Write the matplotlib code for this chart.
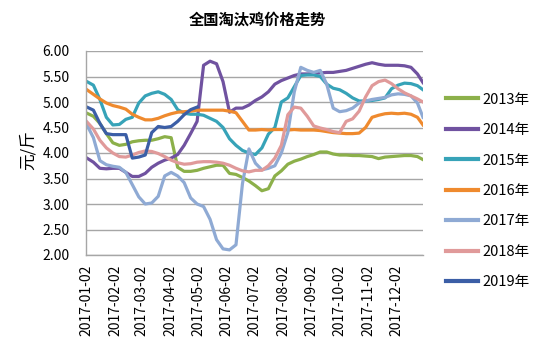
import matplotlib
matplotlib.use("Agg")
import matplotlib.pyplot as plt
import matplotlib.dates as mdates
import pandas as pd
import numpy as np

plt.rcParams['font.family'] = ['Noto Sans CJK SC', 'DejaVu Sans']

title = "全国淘汰鸡价格走势"
ylabel = "元/斤"

# weekly sample dates (2017-01-02 ... 2017-12-25) plus year end
dates = list(pd.date_range("2017-01-02", periods=52, freq="7D")) + [pd.Timestamp("2017-12-31")]

s2013 = [4.78, 4.72, 4.58, 4.38, 4.20, 4.15, 4.17, 4.22, 4.24, 4.25, 4.25, 4.28, 4.32, 4.30,
         3.72, 3.64, 3.64, 3.66, 3.70, 3.73, 3.76, 3.76, 3.60, 3.58, 3.52, 3.45, 3.36, 3.26,
         3.30, 3.55, 3.65, 3.78, 3.84, 3.88, 3.93, 3.97, 4.02, 4.02, 3.98, 3.96, 3.96, 3.95,
         3.95, 3.94, 3.93, 3.89, 3.92, 3.93, 3.94, 3.95, 3.95, 3.93, 3.87]
s2014 = [3.90, 3.82, 3.70, 3.69, 3.70, 3.70, 3.62, 3.54, 3.54, 3.60, 3.72, 3.80, 3.86, 3.90,
         3.97, 4.15, 4.38, 4.62, 5.72, 5.80, 5.75, 5.40, 4.80, 4.88, 4.88, 4.94, 5.03, 5.10,
         5.20, 5.35, 5.42, 5.47, 5.52, 5.55, 5.55, 5.56, 5.57, 5.58, 5.58, 5.60, 5.62, 5.66,
         5.70, 5.74, 5.77, 5.74, 5.72, 5.72, 5.72, 5.71, 5.68, 5.55, 5.38]
s2015 = [5.40, 5.33, 5.05, 4.70, 4.55, 4.56, 4.66, 4.70, 4.98, 5.12, 5.17, 5.20, 5.15, 5.05,
         4.85, 4.78, 4.76, 4.76, 4.74, 4.68, 4.62, 4.50, 4.28, 4.15, 4.05, 4.00, 3.97, 4.10,
         4.37, 4.50, 5.00, 5.08, 5.30, 5.52, 5.53, 5.53, 5.50, 5.35, 5.27, 5.24, 5.17, 5.08,
         5.02, 5.02, 5.03, 5.05, 5.08, 5.26, 5.33, 5.37, 5.36, 5.32, 5.24]
s2016 = [5.24, 5.15, 5.06, 4.98, 4.93, 4.90, 4.86, 4.76, 4.70, 4.65, 4.65, 4.68, 4.73, 4.77,
         4.80, 4.81, 4.82, 4.84, 4.84, 4.84, 4.84, 4.84, 4.82, 4.79, 4.62, 4.45, 4.45, 4.46,
         4.45, 4.46, 4.46, 4.45, 4.46, 4.45, 4.45, 4.45, 4.44, 4.42, 4.40, 4.39, 4.38, 4.38,
         4.39, 4.50, 4.70, 4.74, 4.77, 4.78, 4.77, 4.78, 4.76, 4.70, 4.55]
s2017 = [4.55, 4.30, 3.85, 3.77, 3.74, 3.72, 3.62, 3.38, 3.14, 3.00, 3.02, 3.15, 3.55, 3.62,
         3.55, 3.42, 3.12, 3.00, 2.95, 2.70, 2.30, 2.12, 2.10, 2.20, 3.40, 4.08, 3.80, 3.67,
         3.70, 3.75, 4.00, 4.40, 5.20, 5.68, 5.62, 5.58, 5.62, 5.35, 4.88, 4.81, 4.83, 4.88,
         4.98, 5.02, 5.05, 5.07, 5.09, 5.14, 5.16, 5.15, 5.12, 4.98, 4.70]
s2018 = [4.61, 4.47, 4.25, 4.10, 4.00, 3.93, 3.92, 3.96, 4.01, 4.04, 4.03, 3.99, 3.93, 3.86,
         3.81, 3.78, 3.79, 3.82, 3.83, 3.83, 3.82, 3.80, 3.76, 3.70, 3.65, 3.63, 3.66, 3.66,
         3.75, 3.90, 4.15, 4.75, 4.90, 4.88, 4.72, 4.53, 4.49, 4.46, 4.42, 4.40, 4.62, 4.67,
         4.82, 5.10, 5.32, 5.40, 5.43, 5.36, 5.26, 5.18, 5.12, 5.06, 5.00]
s2019 = [4.90, 4.84, 4.58, 4.38, 4.36, 4.36, 4.36, 3.90, 3.92, 3.96, 4.40, 4.52, 4.50, 4.52,
         4.62, 4.75, 4.85, 4.90]

series_names = ["2013年", "2014年", "2015年", "2016年", "2017年", "2018年", "2019年"]
series_vals = [s2013, s2014, s2015, s2016, s2017, s2018, s2019]
colors = ["#8CB04A", "#7052A0", "#37A3B8", "#EF8A2E", "#8FAAD4", "#E09A9A", "#3B5EA6"]

yticks = [2.0, 2.5, 3.0, 3.5, 4.0, 4.5, 5.0, 5.5, 6.0]
xtick_labels = ["2017-%02d-02" % m for m in range(1, 13)]

fig = plt.figure(figsize=(5.5, 3.58), dpi=100)
ax = fig.add_axes([86/550, 1-255/358, (423-86)/550, (255-51)/358])

for name, vals, c in zip(series_names, series_vals, colors):
    ax.plot(dates[:len(vals)], vals, color=c, lw=2.3, label=name, solid_joinstyle='round')

ax.set_ylim(2.0, 6.0)
ax.set_yticks(yticks)
ax.set_yticklabels(["%.2f" % v for v in yticks], fontsize=10)
ax.set_xlim(pd.Timestamp("2017-01-01"), pd.Timestamp("2017-12-31"))
xt = [pd.Timestamp(s) for s in xtick_labels]
ax.set_xticks(xt)
ax.set_xticklabels(xtick_labels, rotation=90, fontsize=10)
ax.tick_params(axis='both', length=0)
ax.tick_params(axis='y', pad=12)
ax.tick_params(axis='x', pad=7)
ax.grid(axis='y', color='#A6A6A6', lw=1)
ax.set_axisbelow(True)
for s in ['top', 'right']:
    ax.spines[s].set_visible(False)
for s in ['left', 'bottom']:
    ax.spines[s].set_color('#A6A6A6')
    ax.spines[s].set_linewidth(1)

fig.text(28/550, 1-150/358, ylabel, rotation=90, fontsize=12, ha='center', va='center')
fig.text(257/550, 1-20/358, title, fontsize=11, fontweight='bold', ha='center', va='center')

leg = fig.legend(loc='center left', bbox_to_anchor=(446/550, 1-191/358), frameon=False,
                 fontsize=10.5, handlelength=2.2, handletextpad=0.3, labelspacing=1.13,
                 borderpad=0, borderaxespad=0)
for line in leg.get_lines():
    line.set_linewidth(3)

fig.savefig("out.png", dpi=100)
